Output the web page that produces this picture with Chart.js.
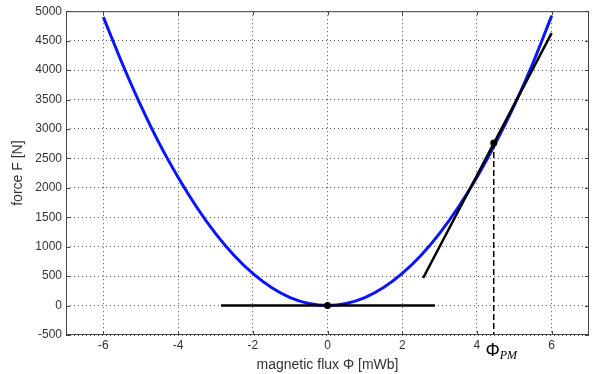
<!DOCTYPE html>
<html>
<head>
<meta charset="utf-8">
<script src="https://cdn.jsdelivr.net/npm/chart.js@4.4.1/dist/chart.umd.min.js"></script>
<style>
  html, body { margin: 0; padding: 0; background: #fff; }
  #wrap { width: 593px; height: 374px; }
</style>
</head>
<body>
<div id="wrap"><canvas id="chart" width="593" height="374"></canvas></div>
<script>
// flux values [mWb] and force [N]
const flux = [-6, -5.5, -5, -4.5, -4, -3.5, -3, -2.5, -2, -1.5, -1, -0.5, 0,
              0.5, 1, 1.5, 2, 2.5, 3, 3.5, 4, 4.5, 5, 5.5, 6];
const force = [4900, 4120, 3400, 2750, 2180, 1670, 1225, 850, 545, 305, 135, 35, 0,
               35, 135, 305, 545, 850, 1225, 1670, 2180, 2760, 3400, 4120, 4920];

// tangent at the operating point
const tangentX = [2.56, 6.0];
const tangentY = [468, 4627];
// horizontal tangent at the origin
const flatX = [-2.85, 2.88];
const flatY = [0, 0];
// operating point
const phiPM = 4.45;
const forcePM = 2760;

const xTicks = [-6, -4, -2, 0, 2, 4, 6];

const toPts = (xs, ys) => xs.map((x, i) => ({ x: x, y: ys[i] }));

const fontFam = "'Liberation Sans', Arial, Helvetica, sans-serif";

// frame, inner ticks and the Phi_PM label
const extras = {
  id: 'extras',
  afterDraw(chart) {
    const { ctx, chartArea: a, scales } = chart;
    ctx.save();
    ctx.strokeStyle = '#444';
    ctx.lineWidth = 1;
    ctx.strokeRect(a.left + 0.5, a.top + 0.5, a.right - a.left - 1, a.bottom - a.top - 1);
    ctx.beginPath();
    xTicks.forEach(v => {
      const px = Math.round(scales.x.getPixelForValue(v)) + 0.5;
      ctx.moveTo(px, a.bottom); ctx.lineTo(px, a.bottom - 4);
      ctx.moveTo(px, a.top); ctx.lineTo(px, a.top + 4);
    });
    for (let v = -500; v <= 5000; v += 500) {
      const py = Math.round(scales.y.getPixelForValue(v)) + 0.5;
      ctx.moveTo(a.left, py); ctx.lineTo(a.left + 4, py);
      ctx.moveTo(a.right, py); ctx.lineTo(a.right - 4, py);
    }
    ctx.stroke();

    const px = scales.x.getPixelForValue(phiPM);
    ctx.fillStyle = '#000';
    ctx.textBaseline = 'alphabetic';
    ctx.font = '18px ' + fontFam;
    ctx.textAlign = 'center';
    ctx.fillText('Φ', px - 1, a.bottom + 21);
    ctx.font = 'italic 12px "Liberation Serif", "Times New Roman", serif';
    ctx.textAlign = 'left';
    ctx.fillText('PM', px + 6, a.bottom + 24);
    ctx.restore();
  }
};

const chart = document.querySelector('#chart').getContext('2d');

new Chart(chart, {
  type: 'scatter',
  data: {
    datasets: [
      {
        label: 'points',
        data: [{ x: 0, y: 0 }, { x: phiPM, y: forcePM }],
        showLine: false,
        pointRadius: 3.5,
        pointBackgroundColor: '#000',
        pointBorderWidth: 0
      },
      {
        label: 'tangent',
        data: toPts(tangentX, tangentY),
        showLine: true,
        borderColor: '#000',
        borderWidth: 2.5,
        pointRadius: 0
      },
      {
        label: 'flat',
        data: toPts(flatX, flatY),
        showLine: true,
        borderColor: '#000',
        borderWidth: 2.5,
        pointRadius: 0
      },
      {
        label: 'dash',
        data: [{ x: phiPM, y: forcePM }, { x: phiPM, y: -500 }],
        showLine: true,
        borderColor: '#000',
        borderWidth: 1.5,
        borderDash: [6, 3],
        pointRadius: 0
      },
      {
        label: 'F',
        data: toPts(flux, force),
        showLine: true,
        borderColor: '#0a14ff',
        borderWidth: 3,
        cubicInterpolationMode: 'monotone',
        pointRadius: 0
      }
    ]
  },
  options: {
    responsive: false,
    animation: false,
    layout: { padding: { top: 6, right: 3, left: 0, bottom: 0 } },
    plugins: { legend: { display: false }, tooltip: { enabled: false } },
    scales: {
      x: {
        type: 'linear',
        min: -7, max: 7,
        afterBuildTicks: s => { s.ticks = xTicks.map(v => ({ value: v })); },
        afterFit: s => { s.height = 39; },
        ticks: { color: '#333', font: { family: fontFam, size: 12 }, padding: 3 },
        grid: { color: '#555', lineWidth: 1, drawTicks: false },
        border: { display: false, dash: [1, 3] },
        title: {
          display: true,
          text: 'magnetic flux Φ [mWb]',
          color: '#333',
          font: { family: fontFam, size: 14 },
          padding: { top: 0, bottom: 0 }
        }
      },
      y: {
        min: -500, max: 5000,
        ticks: {
          stepSize: 500,
          color: '#333',
          font: { family: fontFam, size: 12 },
          padding: 4,
          callback: v => String(v)
        },
        afterFit: s => { s.width = 66; },
        grid: { color: '#555', lineWidth: 1, drawTicks: false },
        border: { display: false, dash: [1, 3] },
        title: {
          display: true,
          text: 'force F [N]',
          color: '#333',
          font: { family: fontFam, size: 14 },
          padding: { top: 10, bottom: 4 }
        }
      }
    }
  },
  plugins: [extras]
});
</script>
</body>
</html>
